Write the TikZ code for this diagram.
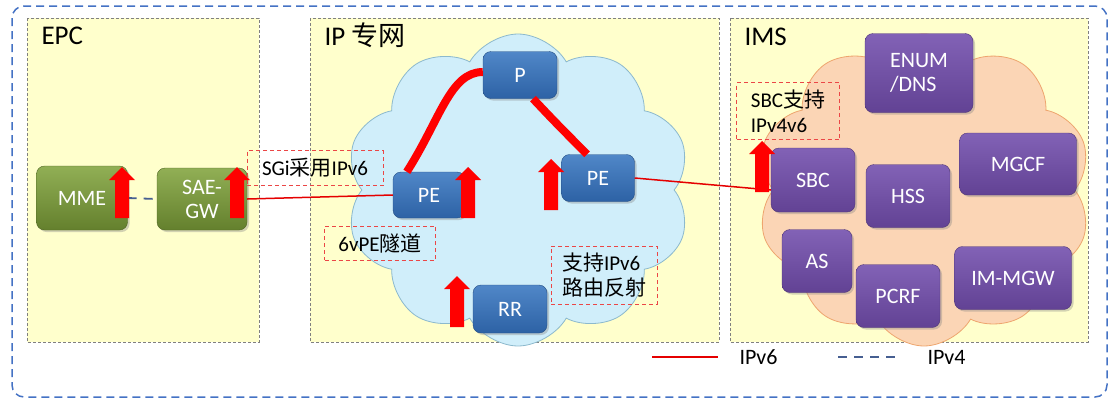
\documentclass[tikz,border=0pt]{standalone}
\usepackage{fontspec}
\setmainfont{Carlito}
\newfontfamily\cjk{Noto Sans CJK SC}
\usetikzlibrary{positioning, shapes.symbols, shadows}

\definecolor{panelfill}{RGB}{255,255,204}
\definecolor{framebl}{RGB}{68,114,196}
\definecolor{v4blue}{RGB}{70,95,145}
\definecolor{cloudbl}{RGB}{208,238,250}
\definecolor{cloudbld}{RGB}{140,185,205}
\definecolor{cloudor}{RGB}{251,213,181}
\definecolor{cloudord}{RGB}{238,165,110}
\definecolor{grntop}{RGB}{145,175,85}
\definecolor{grnbot}{RGB}{100,128,45}
\definecolor{blutop}{RGB}{80,135,200}
\definecolor{blubot}{RGB}{45,98,165}
\definecolor{purtop}{RGB}{130,98,182}
\definecolor{purbot}{RGB}{98,66,148}
\definecolor{notered}{RGB}{235,70,70}

\begin{document}
\begin{tikzpicture}[x=1pt, y=-1pt,
    panel/.style={draw=gray, dash pattern=on 3pt off 2pt, fill=panelfill, line width=0.8pt},
    title/.style={anchor=base west, font=\fontsize{27}{29}\selectfont},
    box/.style={rounded corners=8pt, text=white, align=center, inner sep=2pt,
        font=\fontsize{22}{24}\selectfont,
        drop shadow={shadow xshift=2pt, shadow yshift=-2pt, opacity=0.35}},
    epcbox/.style={box, top color=grntop, bottom color=grnbot, draw=grnbot!80!black},
    ipbox/.style={box, top color=blutop, bottom color=blubot, draw=blubot!80!black},
    imsbox/.style={box, top color=purtop, bottom color=purbot, draw=purbot!80!black},
    note/.style={draw=notered, dash pattern=on 4pt off 3pt, line width=0.9pt, align=left,
        font=\fontsize{21}{25}\selectfont, inner sep=2pt},
    netcloud/.style={cloud, cloud puffs=10, cloud puff arc=120, aspect=1.1, line width=0.8pt},
    v6/.style={red!90!black, line width=1.5pt},
    v6thick/.style={red, line width=8pt},
    v4/.style={v4blue, line width=1.8pt, dash pattern=on 9pt off 7pt},
    redup/.pic={\fill[red] (-7,0) -- (-7,-38) -- (-13,-38) -- (0,-51) -- (13,-38) -- (7,-38) -- (7,0) -- cycle;}
]
\useasboundingbox (0,0) rectangle (1118,405);

% frame and areas
\draw[framebl, line width=1.5pt, dash pattern=on 8pt off 5pt, rounded corners=12pt] (12,6) rectangle (1107,397);
\draw[panel] (27,18) rectangle (259,342);
\draw[panel] (310,18) rectangle (719,342);
\draw[panel] (730,18) rectangle (1088,342);
\node[title] (epc) at (38,44) {EPC};
\node[title] (ipnet) at (321,45) {IP {\cjk 专网}};
\node[title] (ims) at (741,45) {IMS};

% clouds
\node[netcloud, fill=cloudbl, draw=cloudbld, minimum width=345, minimum height=312] (ipcloud) at (518,190) {};
\node[netcloud, fill=cloudor, draw=cloudord, minimum width=335, minimum height=312] (imscloud) at (924,190) {};

% EPC
\node[epcbox, minimum width=91, minimum height=64] (mme) at (82,198) {MME};
\node[epcbox, minimum width=90, minimum height=62] (sae) at (202,199) {SAE-\\GW};

% IP network
\node[ipbox, minimum width=74, minimum height=47] (p) at (520,75) {P};
\node[ipbox, minimum width=72, minimum height=46] (pel) at (429,195) {PE};
\node[ipbox, minimum width=73, minimum height=47] (per) at (598,178) {PE};
\node[ipbox, minimum width=74, minimum height=48] (rr) at (510,309) {RR};

% IMS
\node[imsbox, minimum width=108, minimum height=79, align=left] (enum) at (919,73) {ENUM\\/DNS};
\node[imsbox, minimum width=84, minimum height=64] (sbc) at (813,180) {SBC};
\node[imsbox, minimum width=84, minimum height=63] (hss) at (908,196) {HSS};
\node[imsbox, minimum width=117, minimum height=62] (mgcf) at (1018,164) {MGCF};
\node[imsbox, minimum width=70, minimum height=63] (as) at (817,261) {AS};
\node[imsbox, minimum width=84, minimum height=63] (pcrf) at (898,296) {PCRF};
\node[imsbox, minimum width=117, minimum height=63] (immgw) at (1013,278) {IM-MGW};

% links
\draw[v4] (mme.east) -- (sae.west);
\draw[v6] (sae.east) -- (pel.west);
\draw[v6] (per.east) -- ([yshift=-10pt]sbc.west);
\draw[v6thick] ([xshift=14pt]pel.north west) .. controls (440,120) and (450,72) .. ([yshift=3pt]p.west);
\draw[v6thick] ([xshift=13pt]p.south) .. controls (555,122) .. ([xshift=-11pt]per.north);

% IPv6 support
\pic at (122,218) {redup};
\pic at (237,218) {redup};
\pic at (468,218) {redup};
\pic at (551,210) {redup};
\pic at (457,327) {redup};
\pic at (762,192) {redup};

% notes
\node[note, minimum width=136, minimum height=35] (sgi) at (315,168) {SGi{\cjk 采用}IPv6};
\node[note, minimum width=111, minimum height=34] (tunnel) at (380,243) {6vPE{\cjk 隧道}};
\node[note, minimum width=106, minimum height=58] (rrnote) at (604,275) {{\cjk 支持}IPv6\\{\cjk 路由反射}};
\node[note, minimum width=103, minimum height=57] (sbcnote) at (788,111) {SBC{\cjk 支持}\\IPv4v6};

% legend
\coordinate (lga) at (652,357);
\coordinate (lgb) at (718,357);
\coordinate (lgc) at (838,357);
\coordinate (lgd) at (900,357);
\draw[v6, line width=2pt] (lga) -- (lgb);
\draw[v4] (lgc) -- (lgd);
\node[anchor=west, font=\fontsize{22}{24}\selectfont] (lg6) at (736,357) {IPv6};
\node[anchor=west, font=\fontsize{22}{24}\selectfont] (lg4) at (924,357) {IPv4};
\end{tikzpicture}
\end{document}
